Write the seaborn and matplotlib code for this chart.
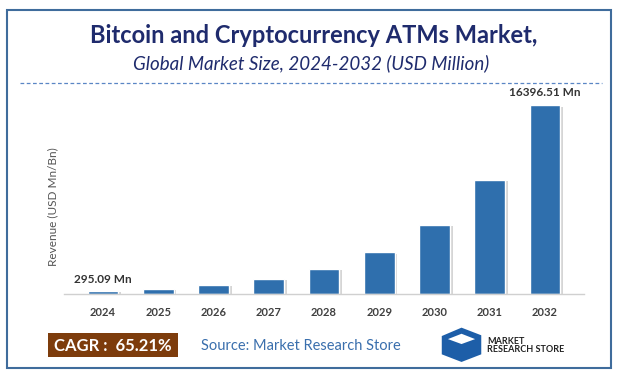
import matplotlib
matplotlib.use("Agg")
import matplotlib.pyplot as plt
import matplotlib.patheffects as pe
from matplotlib.patches import Rectangle, Polygon
from matplotlib.lines import Line2D
import seaborn as sns
import pandas as pd

years = ["2024", "2025", "2026", "2027", "2028", "2029", "2030", "2031", "2032"]
revenue = [295.09, 488, 805, 1330, 2197, 3630, 5997, 9908, 16396.51]
first_label = "295.09 Mn"
last_label = "16396.51 Mn"
cagr_text = "CAGR :  65.21%"
source_text = "Source: Market Research Store"

df = pd.DataFrame({"year": years, "revenue": revenue})

sns.set_style("white")
plt.rcParams["font.family"] = ["Lato", "DejaVu Sans"]

fig = plt.figure(figsize=(6.17, 3.81), dpi=100)
ax = fig.add_axes([0.1037, 0.228, 0.8428, 0.523])

sns.barplot(data=df, x="year", y="revenue", color="#2f6fad", saturation=1,
            width=0.56, ax=ax)
for bar in ax.patches:
    bar.set_path_effects([pe.SimplePatchShadow(offset=(2, -1), shadow_rgbFace="#777777", alpha=0.3),
                          pe.Normal()])

ax.set_xlim(-0.706, 8.706)
ax.set_ylim(0, 17300)
ax.set_yticks([])
ax.set_xlabel("")
ax.set_ylabel("Revenue (USD Mn/Bn)", fontsize=8.5, color="#555555")
ax.yaxis.set_label_coords(-0.01, 0.44)
for s in ["top", "right", "left"]:
    ax.spines[s].set_visible(False)
ax.spines["bottom"].set_color("#d0d0d0")
ax.spines["bottom"].set_linewidth(1)
ax.tick_params(axis="x", length=0, pad=9, labelsize=8, labelcolor="#404040")
for t in ax.get_xticklabels():
    t.set_fontweight("bold")

ax.annotate(first_label, (0, revenue[0]), xytext=(0, 4), textcoords="offset points",
            ha="center", va="bottom", fontsize=8.5, fontweight="bold", color="#333333")
ax.annotate(last_label, (8, revenue[-1]), xytext=(0, 5), textcoords="offset points",
            ha="center", va="bottom", fontsize=8.5, fontweight="bold", color="#333333")

# titles
fig.text(0.508, 0.907, "Bitcoin and Cryptocurrency ATMs Market,", ha="center", va="center",
         fontsize=17, fontweight="bold", color="#1f2b6d")
fig.text(0.504, 0.834, "Global Market Size, 2024-2032 (USD Million)", ha="center", va="center",
         fontsize=13.5, style="italic", color="#1f2b6d")
fig.add_artist(Line2D([0.032, 0.975], [0.782, 0.782], transform=fig.transFigure,
                      color="#5a86c5", lw=0.9, ls=(0, (3, 2))))

# frame
fig.add_artist(Rectangle((0.012, 0.034), 0.978, 0.94, transform=fig.transFigure,
                         fill=False, edgecolor="#3f6c9c", lw=1.5))

# footer
fig.add_artist(Rectangle((0.078, 0.062), 0.21, 0.063, transform=fig.transFigure,
                         facecolor="#7d3c0c", edgecolor="none"))
fig.text(0.183, 0.093, cagr_text, ha="center", va="center", fontsize=12,
         fontweight="bold", color="white")
fig.text(0.325, 0.093, source_text, ha="left", va="center", fontsize=10.5, color="#3a6fad")

# logo
fig.add_artist(Polygon([[0.716, 0.118], [0.748, 0.14], [0.78, 0.12], [0.78, 0.07],
                        [0.748, 0.05], [0.716, 0.07]], closed=True,
                       transform=fig.transFigure, facecolor="#1d5ea8", edgecolor="none"))
fig.add_artist(Polygon([[0.726, 0.11], [0.748, 0.124], [0.77, 0.11], [0.748, 0.097]],
                       closed=True, transform=fig.transFigure, facecolor="white",
                       edgecolor="none"))
fig.text(0.79, 0.093, "MARKET\nRESEARCH STORE", ha="left", va="center", fontsize=6.5,
         fontweight="bold", color="#222222", linespacing=0.9)

fig.savefig("out.png", dpi=100)
